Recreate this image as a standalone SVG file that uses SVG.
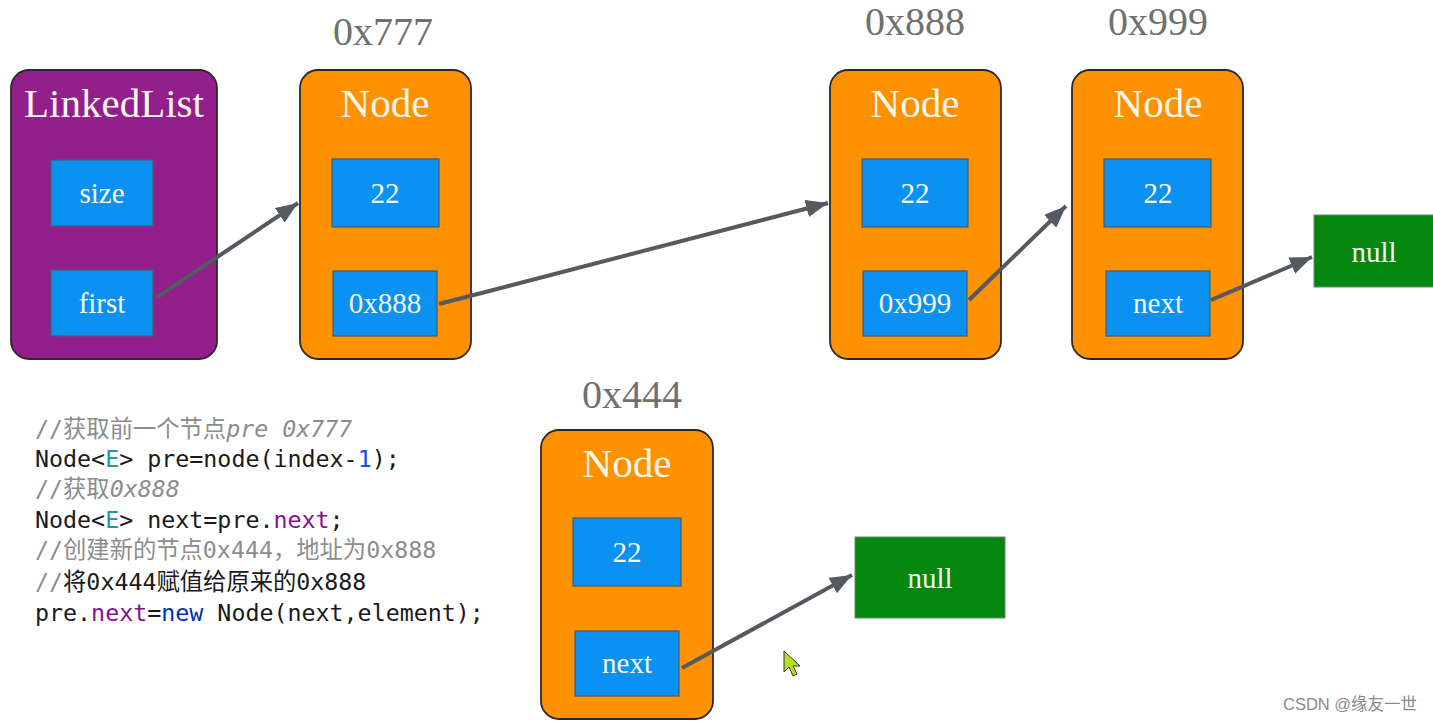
<svg xmlns="http://www.w3.org/2000/svg" width="1433" height="722" viewBox="0 0 1433 722">
<defs>
<marker id="ah" viewBox="0 0 10 8" refX="10" refY="4" markerWidth="5.5" markerHeight="4.4" orient="auto" markerUnits="strokeWidth">
<path d="M0,0 L10,4 L0,8 Z" fill="#555a60"/>
</marker>
</defs>
<style>
.outer{stroke:#2a2a2a;stroke-width:1.8}
.purple{fill:#931f8c}
.orange{fill:#fd9100}
.field{fill:#0a91f2;stroke:#4a5a6a;stroke-width:1.2}
.nul{fill:#04870f;stroke:#6a8a6a;stroke-width:1}
.title{font-family:"Liberation Serif",serif;font-size:41px;fill:#fbf6ec;text-anchor:middle}
.lbl{font-family:"Liberation Serif",serif;font-size:29px;fill:#fbf6ec;text-anchor:middle}
.addr{font-family:"Liberation Serif",serif;font-size:40px;fill:#707070;text-anchor:middle}
.conn{stroke:#555a60;stroke-width:4;fill:none;marker-end:url(#ah)}
.code{font-family:"DejaVu Sans Mono","Noto Sans CJK SC",monospace;font-size:23.3px;fill:#1a1a1a}
.cm{fill:#8c8c8c}
.it{font-style:italic}
.tp{fill:#20999d}
.num{fill:#1750eb}
.fld{fill:#871094}
.kw{fill:#0033b3}
</style>
<rect width="1433" height="722" fill="#ffffff"/>

<g id="linkedlist">
<rect class="outer purple" x="11" y="70" width="206" height="289" rx="18"/>
<text class="title" x="114" y="117">LinkedList</text>
<rect class="field" x="51" y="160" width="102" height="66"/>
<text class="lbl" x="102" y="203">size</text>
<rect class="field" x="51" y="270" width="102" height="66"/>
<text class="lbl" x="102" y="313">first</text>
</g>

<g id="node777">
<text class="addr" x="383" y="45">0x777</text>
<rect class="outer orange" x="300" y="70" width="171" height="289" rx="18"/>
<text class="title" x="385" y="117">Node</text>
<rect class="field" x="332" y="159" width="107" height="68"/>
<text class="lbl" x="385" y="203">22</text>
<rect class="field" x="333" y="271" width="104" height="65"/>
<text class="lbl" x="385" y="313">0x888</text>
</g>

<g id="node888">
<text class="addr" x="915" y="35">0x888</text>
<rect class="outer orange" x="830" y="70" width="171" height="289" rx="18"/>
<text class="title" x="915" y="117">Node</text>
<rect class="field" x="862" y="159" width="106" height="68"/>
<text class="lbl" x="915" y="203">22</text>
<rect class="field" x="863" y="271" width="104" height="65"/>
<text class="lbl" x="915" y="313">0x999</text>
</g>

<g id="node999">
<text class="addr" x="1158" y="35">0x999</text>
<rect class="outer orange" x="1072" y="70" width="171" height="289" rx="18"/>
<text class="title" x="1158" y="117">Node</text>
<rect class="field" x="1104" y="159" width="107" height="68"/>
<text class="lbl" x="1158" y="203">22</text>
<rect class="field" x="1106" y="271" width="104" height="65"/>
<text class="lbl" x="1158" y="313">next</text>
</g>

<g id="null1">
<rect class="nul" x="1314" y="215" width="122" height="72"/>
<text class="lbl" x="1374" y="262">null</text>
</g>

<g id="node444">
<text class="addr" x="632" y="408">0x444</text>
<rect class="outer orange" x="541" y="430" width="172" height="289" rx="18"/>
<text class="title" x="627" y="477">Node</text>
<rect class="field" x="573" y="518" width="108" height="68"/>
<text class="lbl" x="627" y="562">22</text>
<rect class="field" x="575" y="631" width="104" height="65"/>
<text class="lbl" x="627" y="673">next</text>
</g>

<g id="null2">
<rect class="nul" x="855" y="537" width="150" height="81"/>
<text class="lbl" x="930" y="588">null</text>
</g>

<g id="connectors">
<line class="conn" x1="156" y1="298" x2="298" y2="203"/>
<line class="conn" x1="439" y1="304" x2="828" y2="203"/>
<line class="conn" x1="969" y1="300" x2="1066" y2="206"/>
<line class="conn" x1="1211" y1="300" x2="1312" y2="257"/>
<line class="conn" x1="682" y1="668" x2="852" y2="575"/>
</g>

<g id="code">
<text class="code" x="35" y="437"><tspan class="cm">//获取前一个节点</tspan><tspan class="cm it">pre 0x777</tspan></text>
<text class="code" x="35" y="467">Node&lt;<tspan class="tp">E</tspan>&gt; pre=node(index-<tspan class="num">1</tspan>);</text>
<text class="code" x="35" y="497"><tspan class="cm">//获取</tspan><tspan class="cm it">0x888</tspan></text>
<text class="code" x="35" y="528">Node&lt;<tspan class="tp">E</tspan>&gt; next=pre.<tspan class="fld">next</tspan>;</text>
<text class="code" x="35" y="558"><tspan class="cm">//创建新的节点0x444，地址为0x888</tspan></text>
<text class="code" x="35" y="590"><tspan class="cm">//</tspan>将0x444赋值给原来的0x888</text>
<text class="code" x="35" y="621">pre.<tspan class="fld">next</tspan>=<tspan class="kw">new</tspan> Node(next,element);</text>
</g>

<g id="cursor">
<path d="M784,651 L784,672 L789,667 L793,676 L797,674 L793,666 L800,666 Z" fill="#b5e021" stroke="#333" stroke-width="1"/>
</g>

<text x="1283" y="710" font-family="Liberation Sans,'Noto Sans CJK SC',sans-serif" font-size="16.5" fill="#8a8a8a">CSDN @缘友一世</text>
</svg>
